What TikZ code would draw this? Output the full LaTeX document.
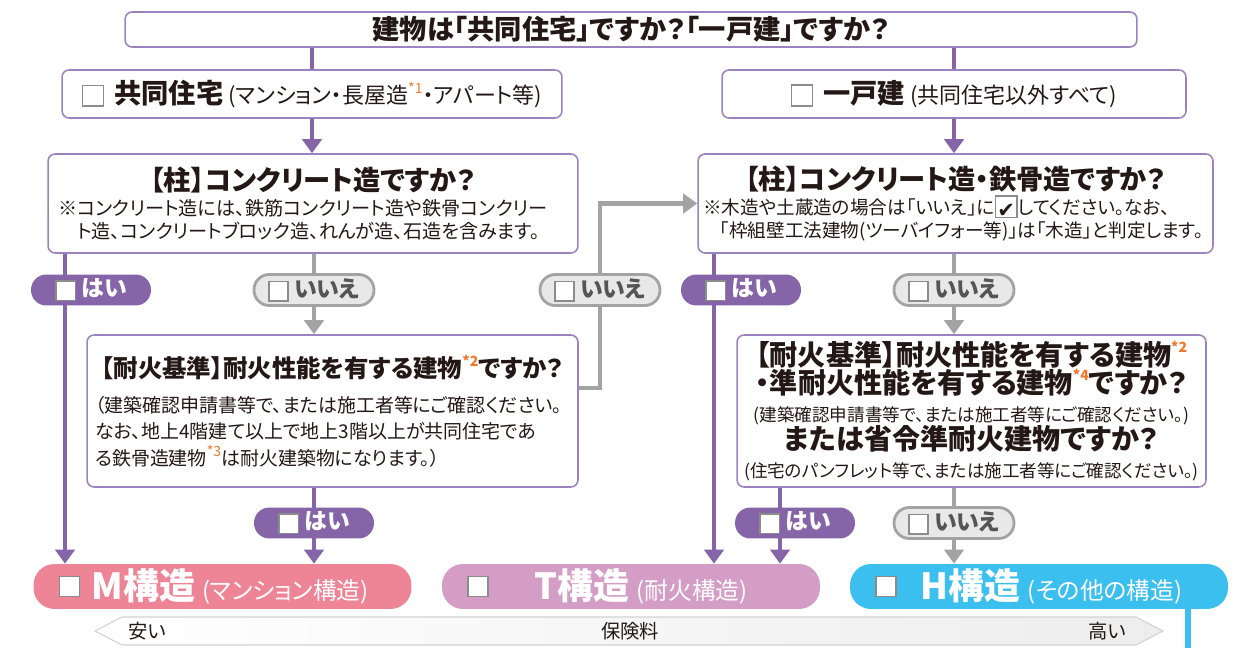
\documentclass[tikz,border=0pt]{standalone}
\usepackage{fontspec}
\setmainfont{Noto Sans CJK JP}[RawFeature={+palt}]
\newfontfamily\symfont{DejaVu Sans}
\usetikzlibrary{arrows.meta}

\definecolor{plum}{HTML}{8564A8}
\definecolor{frame}{HTML}{9C82BE}
\definecolor{ash}{HTML}{A3A3A3}
\definecolor{pale}{HTML}{E8E8E8}
\definecolor{ink}{HTML}{231815}
\definecolor{grayink}{HTML}{555555}
\definecolor{star}{HTML}{F0782D}
\definecolor{mpink}{HTML}{ED8597}
\definecolor{tlilac}{HTML}{D39DC6}
\definecolor{hblue}{HTML}{3BBFEE}
\definecolor{cbgray}{HTML}{8C8C8C}

\setlength{\parindent}{0pt}
\setlength{\fboxsep}{0pt}
\newcommand{\hd}{\bfseries\fontsize{15.5}{18}\selectfont}
\newcommand{\hdb}{\bfseries\fontsize{16}{16}\selectfont}
\newcommand{\nt}{\fontsize{10.9}{13}\selectfont}
\newcommand{\fnm}[1]{\textcolor{star}{\raisebox{0.45em}{\fontsize{8}{8}\selectfont *#1}}}
\newcommand{\cb}{{\setlength{\fboxrule}{0.8pt}\raisebox{-0.1em}{\fcolorbox{cbgray}{white}{\rule{0pt}{11pt}\rule{11pt}{0pt}}}}}
\newcommand{\cbk}{{\setlength{\fboxrule}{0.8pt}\raisebox{-0.15em}{\fcolorbox{cbgray}{white}{\makebox[11.5pt][c]{\rule{0pt}{11.5pt}\symfont\bfseries\fontsize{12}{12}\selectfont\textcolor{ink}{✔}}}}}}
\newcommand{\pcb}{{\setlength{\fboxrule}{1pt}\raisebox{-0.12em}{\fcolorbox{cbgray}{white}{\rule{0pt}{10pt}\rule{10pt}{0pt}}}}}
\newcommand{\kcb}{{\setlength{\fboxrule}{1pt}\fcolorbox{cbgray}{white}{\rule{0pt}{10.5pt}\rule{10.5pt}{0pt}}}}
\newcommand{\kh}{\bfseries\fontsize{20.5}{20}\selectfont}
\newcommand{\kt}{\fontsize{13.5}{13}\selectfont}

\pgfdeclarelayer{back}
\pgfsetlayers{back,main}

\begin{document}
\begin{tikzpicture}[x=0.02cm, y=-0.02cm,
  box/.style={draw=frame, line width=0.9pt, rounded corners=4pt, fill=white, text=ink, inner sep=0pt},
  pline/.style={draw=plum, line width=2.4pt},
  parrow/.style={pline, -{Triangle[width=11pt,length=8pt]}},
  gline/.style={draw=ash, line width=2.4pt},
  garrow/.style={gline, -{Triangle[width=11pt,length=8pt]}},
  pill/.style={rounded corners=8.7pt, minimum width=2.4cm, minimum height=0.62cm, inner sep=0pt, font=\bfseries\fontsize{13}{13}\selectfont},
  yes/.style={pill, fill=plum, text=white},
  no/.style={pill, fill=pale, draw=ash, line width=1.6pt, text=grayink},
  kind/.style={rounded corners=0.42cm, minimum width=7.56cm, minimum height=0.9cm, inner sep=0pt, text=white,
    label={[anchor=west, inner sep=0pt, xshift=0.5cm]west:\kcb}}]
\useasboundingbox (0,0) rectangle (1247,648);

\node[box, minimum width=20.24cm, minimum height=0.7cm, font=\hd] (top) at (631,29.5) {建物は「共同住宅」ですか？「一戸建」ですか？};

\node[box, minimum width=10cm, minimum height=0.96cm] (kyodo) at (312,94)
  {\cb\hspace{6pt}{\bfseries\fontsize{15.5}{15}\selectfont 共同住宅}\hspace{3pt}{\fontsize{12.5}{12}\selectfont (マンション・長屋造\fnm1・アパート等)}};
\node[box, minimum width=9.28cm, minimum height=0.96cm] (ikko) at (954,94)
  {\cb\hspace{6pt}{\bfseries\fontsize{15.5}{15}\selectfont 一戸建}\hspace{3pt}{\fontsize{12.5}{12}\selectfont (共同住宅以外すべて)}};

\node[box, minimum width=10.6cm, minimum height=1.98cm, text width=10.2cm] (hashiraL) at (313,203.5)
  {{\centering\hd 【柱】コンクリート造ですか？\par}\vspace{1pt}
   {\nt ※コンクリート造には、鉄筋コンクリート造や鉄骨コンクリー\\\hspace*{1em}ト造、コンクリートブロック造、れんが造、石造を含みます。\par}};
\node[box, minimum width=10.3cm, minimum height=1.98cm, text width=10.1cm] (hashiraR) at (955.5,203.5)
  {{\centering\hd 【柱】コンクリート造・鉄骨造ですか？\par}\vspace{1pt}
   {\fontsize{10.6}{13}\selectfont ※木造や土蔵造の場合は「いいえ」に\cbk してください。なお、\\\hspace*{0.9em}「枠組壁工法建物(ツーバイフォー等)」は「木造」と判定します。\par}};

\node[box, minimum width=9.82cm, minimum height=3.04cm, text width=9.5cm] (taikaL) at (332.5,411)
  {{\centering\bfseries\fontsize{13.9}{15}\selectfont 【耐火基準】耐火性能を有する建物\fnm2ですか？\par}\vspace{5pt}
   {\fontsize{10.8}{15}\selectfont （建築確認申請書等で、または施工者等にご確認ください。\\なお、地上4階建て以上で地上3階以上が共同住宅であ\\る鉄骨造建物\fnm3は耐火建築物になります。）\par}};
\node[box, minimum width=9.38cm, minimum height=3.04cm, align=center, font=\fontsize{10}{16}\selectfont] (taikaR) at (971.5,411)
  {{\hdb 【耐火基準】耐火性能を有する建物\fnm2}\\
   {\hdb ・準耐火性能を有する建物\fnm4ですか？}\\
   (建築確認申請書等で、または施工者等にご確認ください。)\\
   {\hdb または省令準耐火建物ですか？}\\
   (住宅のパンフレット等で、または施工者等にご確認ください。)};

\node[kind, fill=mpink] (M) at (222.5,586.5) {\hspace*{0.3cm}{\kh M構造}\hspace{0.4em}{\kt (マンション構造)}};
\node[kind, fill=tlilac] (T) at (631,586.5) {\hspace*{0.4cm}{\kh T構造}\hspace{0.4em}{\kt (耐火構造)}};
\node[kind, fill=hblue] (H) at (1039,586.5) {\hspace*{0.5cm}{\kh H構造}\hspace{0.4em}{\kt (その他の構造)}};

\node[yes] (hai1) at (91,290) {\pcb\hspace{3pt}はい};
\node[no] (iie1) at (314,290) {\pcb\hspace{3pt}いいえ};
\node[no] (iie2) at (600,290) {\pcb\hspace{3pt}いいえ};
\node[yes] (hai2) at (741,290) {\pcb\hspace{3pt}はい};
\node[no] (iie3) at (954,290) {\pcb\hspace{3pt}いいえ};
\node[yes] (hai3) at (314,523) {\pcb\hspace{3pt}はい};
\node[yes] (hai4) at (795,523) {\pcb\hspace{3pt}はい};
\node[no] (iie4) at (954,523) {\pcb\hspace{3pt}いいえ};

\coordinate (xa) at (65,0);
\coordinate (xb) at (714,0);
\coordinate (xc) at (780,0);
\coordinate (xd) at (1188,648);

\begin{pgfonlayer}{back}
\draw[pline] (top.south -| kyodo) -- (kyodo.north);
\draw[pline] (top.south -| ikko) -- (ikko.north);
\draw[parrow] (kyodo.south) -- (hashiraL.north -| kyodo.south);
\draw[parrow] (ikko.south) -- (hashiraR.north -| ikko.south);
\draw[parrow] (hashiraL.south -| xa) -- (M.north -| xa);
\draw[garrow] (hashiraL.south -| iie1) -- (taikaL.north -| iie1);
\draw[garrow] ([yshift=0.46cm]taikaL.east) -| (iie2) |- (hashiraR.west);
\draw[parrow] (hashiraR.south -| xb) -- (T.north -| xb);
\draw[garrow] (hashiraR.south -| iie3) -- (taikaR.north -| iie3);
\draw[parrow] (taikaL.south -| hai3) -- (M.north -| hai3);
\draw[parrow] (taikaR.south -| xc) -- (T.north -| xc);
\draw[garrow] (taikaR.south -| iie4) -- (H.north -| iie4);
\draw[hblue, line width=3.4pt] (H.south -| xd) -- (xd);
\end{pgfonlayer}

\draw[draw=gray!35, line width=0.6pt, left color=white, right color=gray!14]
  (95,631) -- (122,617) -- (1136,617) -- (1163,631) -- (1136,645) -- (122,645) -- cycle;
\node[text=ink, font=\fontsize{11}{11}\selectfont] (cheap) at (147,631) {安い};
\node[text=ink, font=\fontsize{11}{11}\selectfont] (fee) at (630,631) {保険料};
\node[text=ink, font=\fontsize{11}{11}\selectfont] (dear) at (1107,631) {高い};
\end{tikzpicture}
\end{document}
